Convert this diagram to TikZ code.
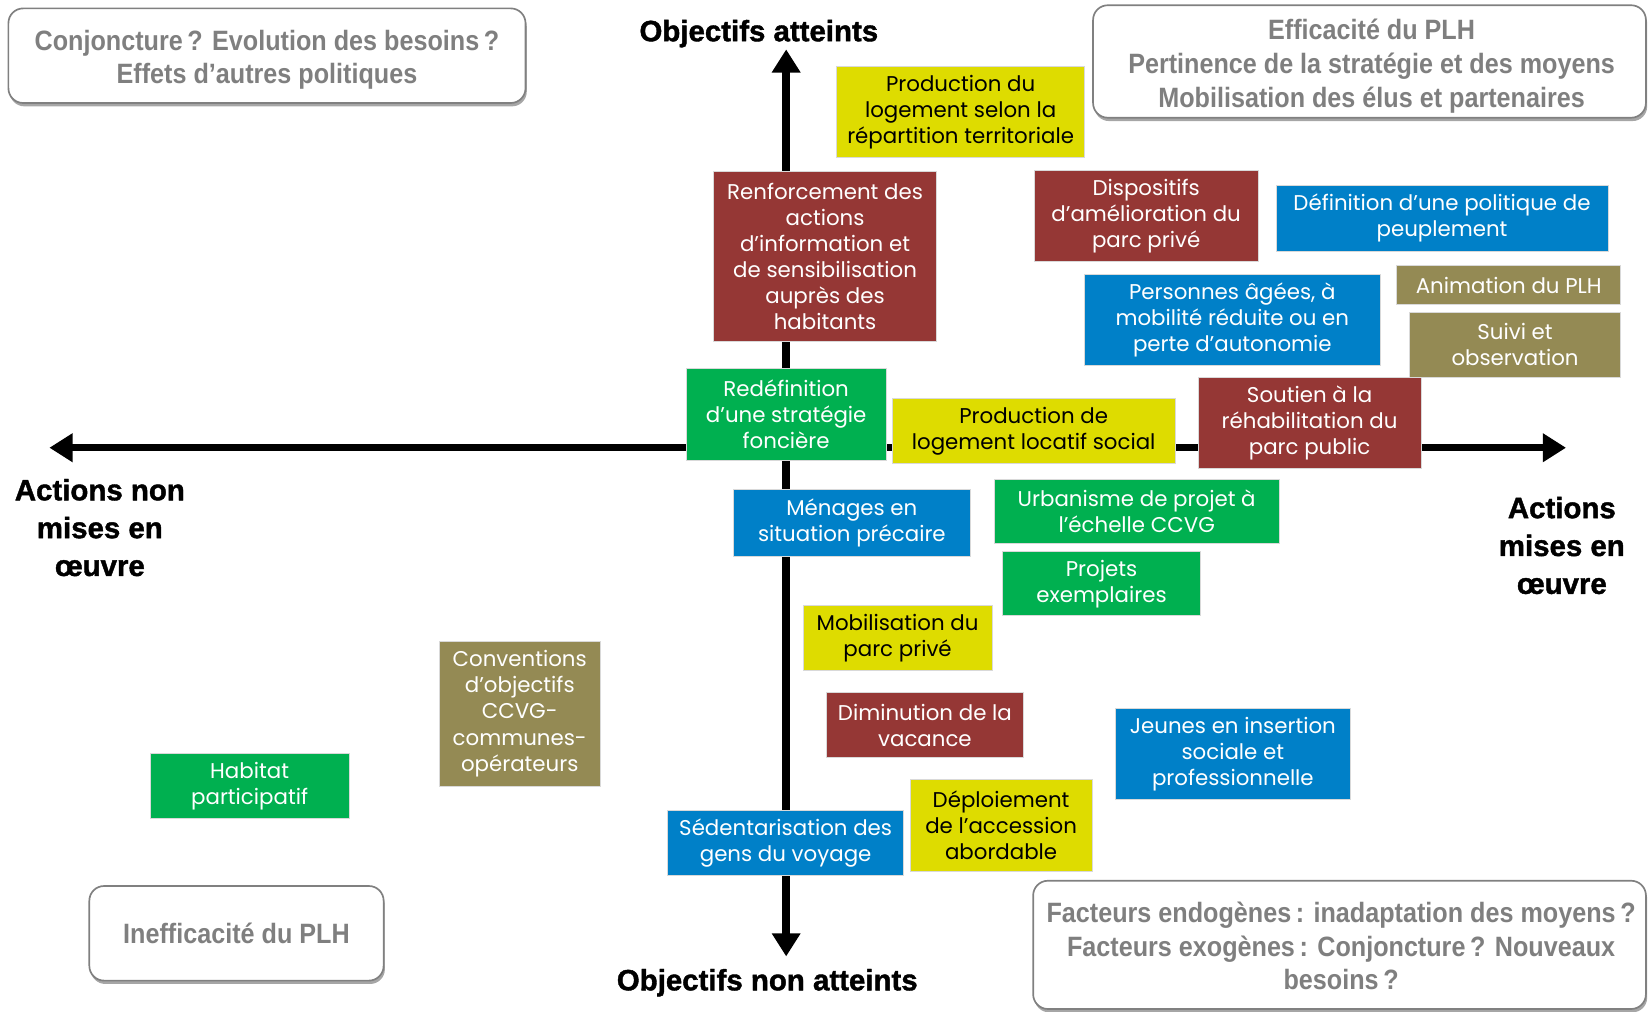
\documentclass[tikz,border=0pt]{standalone}
\usepackage{fontspec}
\setmainfont{Poppins}
\newfontfamily\grayfont[FakeStretch=0.9]{Liberation Sans}
\newfontfamily\axisfont[FakeBold=1.4]{Liberation Sans}
\usetikzlibrary{arrows.meta,shadows}
\definecolor{cred}{RGB}{149,55,53}
\definecolor{cyel}{RGB}{222,220,0}
\definecolor{cgreen}{RGB}{0,176,80}
\definecolor{cblue}{RGB}{0,128,200}
\definecolor{colive}{RGB}{148,138,84}
\definecolor{cgraytxt}{RGB}{127,127,127}
\definecolor{cgrayline}{RGB}{128,128,128}
\begin{document}
\begin{tikzpicture}[x=0.5pt,y=-0.5pt,
  cbox/.style={draw=white!85!black, line width=0.4pt, inner sep=0pt, align=center,
    font=\fontsize{10.15}{12.4}\selectfont, text=white},
  ybox/.style={cbox, fill=cyel, text=black},
  rbox/.style={cbox, fill=cred},
  gbox/.style={cbox, fill=cgreen},
  bbox/.style={cbox, fill=cblue},
  obox/.style={cbox, fill=colive},
  graybox/.style={draw=cgrayline, line width=0.8pt, fill=white, rounded corners=7pt,
    inner sep=0pt,
    drop shadow={shadow xshift=0.6pt, shadow yshift=-1.6pt, fill=black, opacity=0.35}},
  graytext/.style={inner sep=0pt, align=center, text=cgraytxt,
    font=\grayfont\bfseries\fontsize{13.3}{16}\selectfont},
  axislabel/.style={align=center, inner sep=0pt, font=\axisfont\bfseries\fontsize{14}{18}\selectfont},
  axisline/.style={line width=3.5pt, -{Triangle[length=11pt,width=13pt]}}
]
\useasboundingbox (0,0) rectangle (1568,962);

% axes
\coordinate (hl) at (47,426);
\coordinate (hr) at (1490,426);
\coordinate (vt) at (748,47);
\coordinate (vb) at (748,910);
\coordinate (ctr) at (748,426);
\draw[axisline] (ctr) -- (hl);
\draw[axisline] (ctr) -- (hr);
\draw[axisline] (ctr) -- (vt);
\draw[axisline] (ctr) -- (vb);

% axis labels
\node[axislabel] (lt) at (722,32) {Objectifs atteints};
\node[axislabel] (lb) at (730,935) {Objectifs non atteints};
\node[axislabel] (ll) at (95,502) {Actions non\\mises en\\œuvre};
\node[axislabel] (lr) at (1486,519) {Actions\\mises en\\œuvre};

% gray rounded boxes
\node[graybox, minimum width=246pt, minimum height=45pt] (g1) at (254,53) {};
\node[graytext] (g1t) at (254,57)
  {Conjoncture\,? Evolution des besoins\,?\\Effets d’autres politiques};
\node[graybox, minimum width=263pt, minimum height=53.5pt] (g2) at (1303,58.5) {};
\node[graytext] (g2t) at (1305,63)
  {Efficacité du PLH\\Pertinence de la stratégie et des moyens\\Mobilisation des élus et partenaires};
\node[graybox, minimum width=140pt, minimum height=45pt] (g3) at (225,888) {};
\node[graytext] (g3t) at (225,888) {Inefficacité du PLH};
\node[graybox, minimum width=291.5pt, minimum height=61pt] (g4) at (1274.5,899) {};
\node[graytext] (g4t) at (1276,900)
  {Facteurs endogènes\,: inadaptation des moyens\,?\\Facteurs exogènes\,: Conjoncture\,? Nouveaux\\besoins\,?};

% coloured boxes
\node[ybox, minimum width=118pt, minimum height=43.5pt] (prodlog) at (914,106.5)
  {Production du\\logement selon la\\répartition territoriale};
\node[rbox, minimum width=106pt, minimum height=81pt] (renf) at (785,244)
  {Renforcement des\\actions\\d’information et\\de sensibilisation\\auprès des\\habitants};
\node[rbox, minimum width=106.5pt, minimum height=43.5pt] (disp) at (1090.5,205.5)
  {Dispositifs\\d’amélioration du\\parc privé};
\node[bbox, minimum width=158pt, minimum height=31.5pt] (defpol) at (1372,207.5)
  {Définition d’une politique de\\peuplement};
\node[bbox, minimum width=140.5pt, minimum height=43.5pt] (pers) at (1172.5,304.5)
  {Personnes âgées, à\\mobilité réduite ou en\\perte d’autonomie};
\node[obox, minimum width=106.5pt, minimum height=18.5pt] (anim) at (1435.5,271.5)
  {Animation du PLH};
\node[obox, minimum width=100.5pt, minimum height=31pt] (suivi) at (1441.5,328)
  {Suivi et\\observation};
\node[gbox, minimum width=95pt, minimum height=43.5pt] (redef) at (748,394.5)
  {Redéfinition\\d’une stratégie\\foncière};
\node[ybox, minimum width=134.5pt, minimum height=31pt] (prodsoc) at (983.5,410)
  {Production de\\logement locatif social};
\node[rbox, minimum width=106pt, minimum height=43.5pt] (soutien) at (1246,402.5)
  {Soutien à la\\réhabilitation du\\parc public};
\node[bbox, minimum width=112.5pt, minimum height=31.5pt] (menages) at (810.5,497.5)
  {Ménages en\\situation précaire};
\node[gbox, minimum width=135.5pt, minimum height=30.5pt] (urba) at (1081.5,486.5)
  {Urbanisme de projet à\\l’échelle CCVG};
\node[gbox, minimum width=94pt, minimum height=30.5pt] (projets) at (1048,555.5)
  {Projets\\exemplaires};
\node[ybox, minimum width=90pt, minimum height=31pt] (mobil) at (854,607)
  {Mobilisation du\\parc privé};
\node[rbox, minimum width=94pt, minimum height=31pt] (dimin) at (880,690)
  {Diminution de la\\vacance};
\node[bbox, minimum width=112pt, minimum height=43.5pt] (jeunes) at (1173,717.5)
  {Jeunes en insertion\\sociale et\\professionnelle};
\node[ybox, minimum width=86.5pt, minimum height=43.5pt] (deploi) at (952.5,785.5)
  {Déploiement\\de l’accession\\abordable};
\node[bbox, minimum width=112.5pt, minimum height=31pt] (sedent) at (747.5,802)
  {Sédentarisation des\\gens du voyage};
\node[obox, minimum width=76.5pt, minimum height=69pt] (conv) at (494.5,679)
  {Conventions\\d’objectifs\\CCVG-\\communes-\\opérateurs};
\node[gbox, minimum width=94.5pt, minimum height=31pt] (habitat) at (237.5,748)
  {Habitat\\participatif};
\end{tikzpicture}
\end{document}
